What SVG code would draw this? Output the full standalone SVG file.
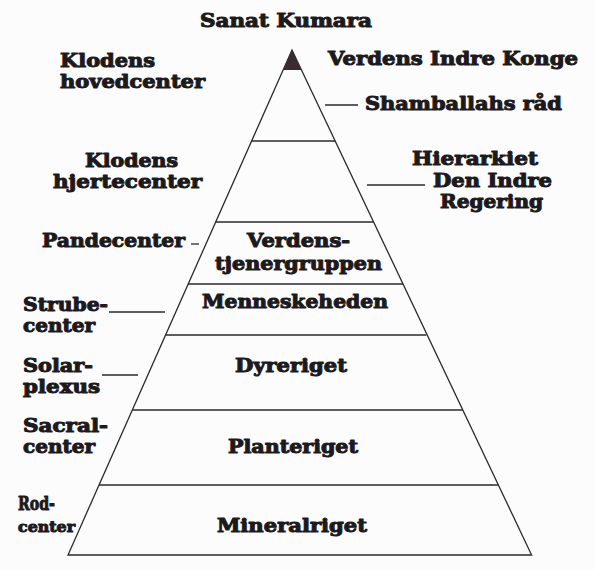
<svg xmlns="http://www.w3.org/2000/svg" width="595" height="570" viewBox="0 0 595 570">
<style>
.t{font-family:"DejaVu Serif","Liberation Serif",serif;font-weight:bold;font-size:18px;fill:#1c1a1c;stroke:#1c1a1c;stroke-width:1;stroke-linejoin:round}
.s{font-size:14px}
.ln{stroke:#2a2a2a;stroke-width:1.3;fill:none}
</style>
<rect width="595" height="570" fill="#fcfcfc"/>
<g id="pyramid">
<polygon class="ln" points="292,50 531.6,555 68,555"/>
<polygon points="292,50 301.5,70 283.1,70" fill="#3b2c30"/>
</g>
<g id="tier-lines">
<line class="ln" x1="251.6" y1="141" x2="335.2" y2="141"/>
<line class="ln" x1="215.7" y1="222" x2="373.6" y2="222"/>
<line class="ln" x1="188.2" y1="284" x2="403" y2="284"/>
<line class="ln" x1="165.5" y1="335" x2="426.3" y2="335"/>
<line class="ln" x1="132.3" y1="410" x2="462.8" y2="410"/>
<line class="ln" x1="99" y1="485" x2="498.4" y2="485"/>
</g>
<g id="connectors">
<line class="ln" x1="325" y1="105" x2="358" y2="105"/>
<line class="ln" x1="367" y1="185" x2="425" y2="185"/>
<line class="ln" x1="191" y1="244" x2="199" y2="244"/>
<line class="ln" x1="109" y1="312" x2="165" y2="312"/>
<line class="ln" x1="102" y1="375" x2="138" y2="375"/>
</g>
<g id="sanat-kumara"><text class="t" x="200" y="27" textLength="172" lengthAdjust="spacingAndGlyphs">Sanat Kumara</text></g>
<g id="verdens-indre-konge"><text class="t" x="328" y="65" textLength="250" lengthAdjust="spacingAndGlyphs">Verdens Indre Konge</text></g>
<g id="shamballahs-raad"><text class="t" x="365" y="110" textLength="197" lengthAdjust="spacingAndGlyphs">Shamballahs råd</text></g>
<g id="hierarkiet">
<text class="t" x="412" y="165" textLength="126" lengthAdjust="spacingAndGlyphs">Hierarkiet</text>
<text class="t" x="433" y="187" textLength="119" lengthAdjust="spacingAndGlyphs">Den Indre</text>
<text class="t" x="440" y="208" textLength="103" lengthAdjust="spacingAndGlyphs">Regering</text>
</g>
<g id="klodens-hovedcenter">
<text class="t" x="60" y="67" textLength="95" lengthAdjust="spacingAndGlyphs">Klodens</text>
<text class="t" x="60" y="88" textLength="145" lengthAdjust="spacingAndGlyphs">hovedcenter</text>
</g>
<g id="klodens-hjertecenter">
<text class="t" x="85" y="167" textLength="93" lengthAdjust="spacingAndGlyphs">Klodens</text>
<text class="t" x="53" y="188" textLength="149" lengthAdjust="spacingAndGlyphs">hjertecenter</text>
</g>
<g id="pandecenter"><text class="t" x="42" y="247" textLength="143" lengthAdjust="spacingAndGlyphs">Pandecenter</text></g>
<g id="strubecenter">
<text class="t" x="23" y="311" textLength="85" lengthAdjust="spacingAndGlyphs">Strube-</text>
<text class="t" x="23" y="332" textLength="72" lengthAdjust="spacingAndGlyphs">center</text>
</g>
<g id="solar-plexus">
<text class="t" x="23" y="372" textLength="70" lengthAdjust="spacingAndGlyphs">Solar-</text>
<text class="t" x="23" y="393" textLength="77" lengthAdjust="spacingAndGlyphs">plexus</text>
</g>
<g id="sacralcenter">
<text class="t" x="23" y="432" textLength="85" lengthAdjust="spacingAndGlyphs">Sacral-</text>
<text class="t" x="23" y="453" textLength="72" lengthAdjust="spacingAndGlyphs">center</text>
</g>
<g id="rodcenter">
<text class="t" x="18" y="510" textLength="37" lengthAdjust="spacingAndGlyphs">Rod-</text>
<text class="t s" x="18" y="532" textLength="57" lengthAdjust="spacingAndGlyphs">center</text>
</g>
<g id="verdenstjenergruppen">
<text class="t" x="247" y="247" textLength="103" lengthAdjust="spacingAndGlyphs">Verdens-</text>
<text class="t" x="215" y="270" textLength="167" lengthAdjust="spacingAndGlyphs">tjenergruppen</text>
</g>
<g id="menneskeheden"><text class="t" x="202" y="308" textLength="186" lengthAdjust="spacingAndGlyphs">Menneskeheden</text></g>
<g id="dyreriget"><text class="t" x="235" y="372" textLength="112" lengthAdjust="spacingAndGlyphs">Dyreriget</text></g>
<g id="planteriget"><text class="t" x="228" y="453" textLength="130" lengthAdjust="spacingAndGlyphs">Planteriget</text></g>
<g id="mineralriget"><text class="t" x="217" y="532" textLength="150" lengthAdjust="spacingAndGlyphs">Mineralriget</text></g>
</svg>
